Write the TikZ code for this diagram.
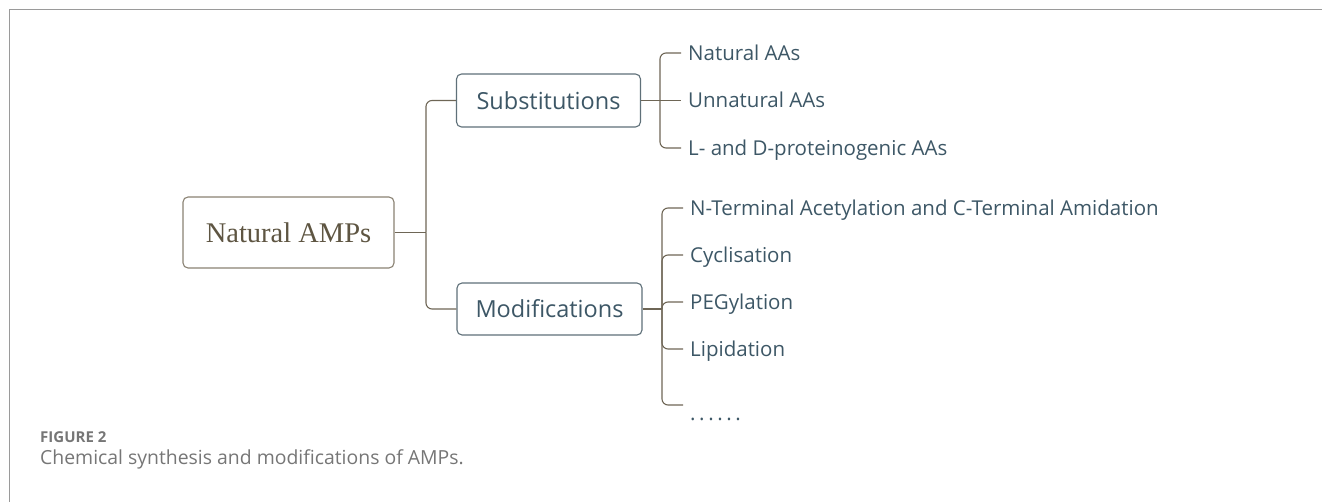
\documentclass[tikz,border=0pt]{standalone}
\usepackage{fontspec}
\setmainfont{Liberation Serif}
\newfontfamily\kidfont{Open Sans}
\newfontfamily\capfont{Open Sans}
\definecolor{conn}{HTML}{6E6656}
\definecolor{kidtext}{HTML}{3D5766}
\definecolor{roottext}{HTML}{5E5542}
\definecolor{rootborder}{HTML}{8A8273}
\definecolor{boxborder}{HTML}{5F7079}
\definecolor{framecol}{HTML}{9A9A9A}
\definecolor{captext}{HTML}{767676}
\tikzset{
  frameline/.style={draw=framecol,line width=1.4pt},
  connline/.style={draw=conn,line width=1.1pt},
  elbow/.style={connline,rounded corners=6pt},
  rootbox/.style={draw=rootborder,line width=1.1pt,rounded corners=5pt,fill=white,
    minimum width=211pt,minimum height=71pt,inner sep=0pt,
    font=\fontsize{28.5}{30}\selectfont,text=roottext},
  midbox/.style={draw=boxborder,line width=1.1pt,rounded corners=5pt,fill=white,
    minimum height=53pt,inner sep=0pt,
    font=\kidfont\fontsize{23.5}{26}\selectfont,text=kidtext},
  leaf/.style={anchor=west,inner xsep=7pt,inner ysep=0pt,text height=14.6pt,text depth=0pt,
    font=\kidfont\fontsize{20.5}{22}\selectfont,text=kidtext},
}
\newcommand{\dotrow}{.\hspace{3.6pt}.\hspace{3.6pt}.\hspace{3.6pt}.\hspace{3.6pt}.\hspace{3.6pt}.}
\begin{document}
\begin{tikzpicture}[x=1pt,y=-1pt]
\useasboundingbox (0,0) rectangle (1322,502);
\draw[frameline] (9.5,502) -- (9.5,9.5) -- (1322,9.5);

\node[rootbox] (root) at (288.5,232.5) {Natural AMPs};
\node[midbox,minimum width=184pt] (sub) at (548.5,100.5) {Substitutions};
\node[midbox,minimum width=185pt,minimum height=52pt] (mod) at (549.5,309) {Modifications};

\node[leaf] (s1) at (681,53) {Natural AAs};
\node[leaf] (s2) at (681,100.5) {Unnatural AAs};
\node[leaf] (s3) at (681,148) {L- and D-proteinogenic AAs};

\node[leaf] (m1) at (683,208) {N-Terminal Acetylation and C-Terminal Amidation};
\node[leaf] (m2) at (683,255) {Cyclisation};
\node[leaf] (m3) at (683,302) {PEGylation};
\node[leaf] (m4) at (683,349) {Lipidation};
\node[leaf] (m5) at (683,405) {\raisebox{-8pt}{\dotrow}};

\coordinate (rj) at (426,232.5);
\coordinate (sj) at (660,100.5);
\coordinate (mj) at (662,309);

\draw[connline] (root.east) -- (rj);
\draw[elbow] (rj) |- (sub.west);
\draw[elbow] (rj) |- (mod.west);

\draw[connline] (sub.east) -- (sj);
\draw[elbow] (sj) |- (s1.west);
\draw[connline] (sj) -- (s2.west);
\draw[elbow] (sj) |- (s3.west);

\draw[connline] (mod.east) -- (mj);
\draw[elbow] (mj) |- (m1.west);
\draw[elbow] (mj) |- (m2.west);
\draw[elbow] (mj) |- (m3.west);
\draw[elbow] (mj) |- (m4.west);
\draw[elbow] (mj) |- (m5.west);

\node[anchor=west,inner sep=0pt,font=\capfont\bfseries\fontsize{15}{17}\selectfont,text=captext] (fig) at (40,437) {FIGURE 2};
\node[anchor=west,inner sep=0pt,font=\capfont\fontsize{19.4}{21}\selectfont,text=captext] (cap) at (40,459) {Chemical synthesis and modifications of AMPs.};
\end{tikzpicture}
\end{document}
